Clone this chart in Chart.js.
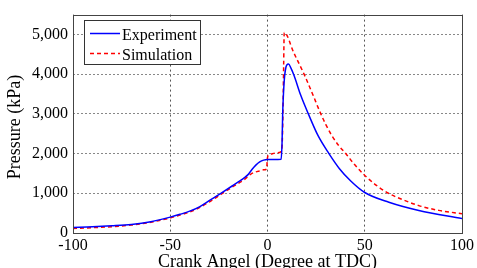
<!DOCTYPE html>
<html>
<head>
<meta charset="utf-8">
<script src="https://cdn.jsdelivr.net/npm/chart.js@4"></script>
<style>
  html, body { margin: 0; padding: 0; background: #fff; overflow: hidden; }
</style>
</head>
<body>
<canvas id="myChart" width="477" height="268"></canvas>
<script>
// dados (ângulo em graus, pressão em kPa)
const anguloExp = [-100, -90, -80, -70, -60, -50, -45, -40, -35, -30, -24, -18, -14, -12, -10, -8, -6, -4, -2, 0, 3, 7,
    7.5, 7.8, 8.2, 8.8, 9.5, 10.3, 10.8, 12, 13.7, 17, 21, 26, 31.6, 37, 42.8, 50, 62.4, 77.8, 100];
const pressaoExp = [140, 155, 180, 215, 285, 400, 470, 550, 660, 815, 1000, 1190, 1320, 1390, 1470, 1600, 1710, 1790, 1835, 1850, 1850, 1855,
    2300, 3000, 3500, 3950, 4180, 4250, 4254, 4160, 3960, 3480, 3000, 2450, 2000, 1620, 1310, 1020, 775, 568, 365];

const anguloSim = [-100, -90, -80, -70, -60, -50, -45, -40, -35, -30, -24, -18, -14, -12, -10, -8, -6, -4, -2, -0.5, 0, 0.5, 2, 5, 7,
    7.6, 8.0, 8.3, 8.6, 13.5, 18.8, 23, 27.4, 30, 33, 36.5, 40.2, 45, 50, 56, 62.4, 70, 77.8, 88, 100];
const pressaoSim = [115, 135, 160, 200, 270, 380, 450, 530, 640, 780, 970, 1160, 1280, 1340, 1430, 1500, 1540, 1565, 1590, 1610, 1900, 1960, 1990, 2020, 2050,
    2300, 3200, 4200, 5050, 4540, 4000, 3520, 3000, 2730, 2460, 2210, 2000, 1710, 1450, 1200, 995, 830, 690, 570, 486];

const xTicks = [-100, -50, 0, 50, 100];
const yTicks = [0, 1000, 2000, 3000, 4000, 5000];
const nomes = ['Experiment', 'Simulation'];

const serif = '"Liberation Serif", "Times New Roman", serif';

const pontos = (xs, ys) => xs.map((x, i) => ({ x: x, y: ys[i] }));

// legenda com caixa, estilo MATLAB
const legendaBox = {
    id: 'legendaBox',
    afterDraw(chart) {
        const ctx = chart.ctx;
        const area = chart.chartArea;
        ctx.save();
        // moldura do gráfico
        ctx.strokeStyle = '#444';
        ctx.lineWidth = 1;
        ctx.setLineDash([]);
        ctx.strokeRect(Math.round(area.left) + 0.5, Math.round(area.top) + 0.5,
            Math.round(area.right - area.left), Math.round(area.bottom - area.top));

        // caixa da legenda
        const bx = 84, by = 20, bw = 116, bh = 44;
        ctx.fillStyle = '#fff';
        ctx.fillRect(bx, by, bw, bh);
        ctx.strokeStyle = '#333';
        ctx.strokeRect(bx + 0.5, by + 0.5, bw, bh);

        ctx.font = '16px ' + serif;
        ctx.textBaseline = 'alphabetic';
        chart.data.datasets.forEach((ds, i) => {
            const yy = 33.5 + i * 20;
            ctx.strokeStyle = ds.borderColor;
            ctx.lineWidth = 1.5;
            ctx.setLineDash(ds.borderDash || []);
            ctx.beginPath();
            ctx.moveTo(90, yy);
            ctx.lineTo(120, yy);
            ctx.stroke();
            ctx.setLineDash([]);
            ctx.fillStyle = '#000';
            ctx.fillText(ds.label, 122, yy + 6);
        });

        // títulos dos eixos
        ctx.font = '18px ' + serif;
        ctx.fillStyle = '#000';
        ctx.textAlign = 'center';
        ctx.textBaseline = 'middle';
        ctx.fillText('Crank Angel (Degree at TDC)', (area.left + area.right) / 2, 262);
        ctx.translate(15, 127);
        ctx.rotate(-Math.PI / 2);
        ctx.fillText('Pressure (kPa)', 0, 0);
        ctx.restore();
    }
};

const ctx = document.getElementById('myChart').getContext('2d');
const myChart = new Chart(ctx, {
    type: 'line',
    data: {
        datasets: [{
            label: nomes[0],
            data: pontos(anguloExp, pressaoExp),
            borderColor: '#0000ff',
            borderWidth: 1.5,
            pointRadius: 0,
            cubicInterpolationMode: 'monotone',
            fill: false
        }, {
            label: nomes[1],
            data: pontos(anguloSim, pressaoSim),
            borderColor: '#ff0000',
            borderDash: [4, 3],
            borderWidth: 1.5,
            pointRadius: 0,
            cubicInterpolationMode: 'monotone',
            fill: false
        }]
    },
    options: {
        responsive: false,
        animation: false,
        layout: { padding: { top: 10, right: 14, left: 0, bottom: 0 } },
        plugins: {
            legend: { display: false },
            tooltip: { enabled: false }
        },
        scales: {
            x: {
                type: 'linear',
                min: -100,
                max: 100,
                afterBuildTicks: (s) => { s.ticks = xTicks.map(v => ({ value: v })); },
                afterFit: (s) => { s.height = 35; },
                grid: { color: '#555', lineWidth: 1, drawTicks: false },
                border: { display: false, dash: [2, 3] },
                ticks: {
                    color: '#000',
                    padding: 3,
                    maxRotation: 0,
                    font: { family: serif, size: 16 },
                    callback: (v) => String(v)
                }
            },
            y: {
                type: 'linear',
                min: 0,
                max: 5500,
                afterBuildTicks: (s) => { s.ticks = yTicks.map(v => ({ value: v })); },
                afterFit: (s) => { s.width = 73; },
                grid: { color: '#888', lineWidth: 1, drawTicks: false },
                border: { display: false, dash: [2, 2] },
                ticks: {
                    color: '#000',
                    padding: 5,
                    font: { family: serif, size: 16 },
                    callback: (v) => v.toLocaleString('en-US')
                }
            }
        }
    },
    plugins: [legendaBox]
});
</script>
</body>
</html>
